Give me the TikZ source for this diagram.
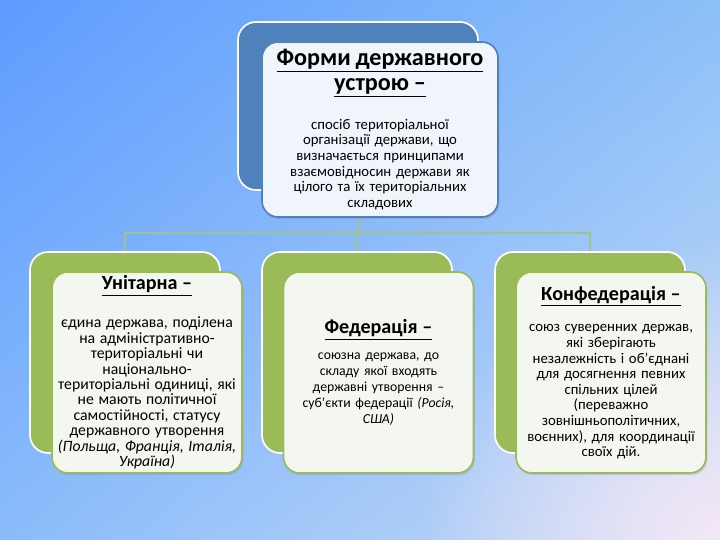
\documentclass[tikz,border=0pt]{standalone}
\usepackage{fontspec}
\setmainfont{Carlito}
\usetikzlibrary{shadows,fadings,shadings}

\definecolor{officeblue}{RGB}{79,129,189}
\definecolor{officegreen}{RGB}{155,187,89}
\definecolor{linkgreen}{RGB}{158,196,138}
\definecolor{greenpaper}{RGB}{244,247,239}
\definecolor{bluepaper}{RGB}{240,245,251}
\definecolor{bgul}{RGB}{94,155,255}
\definecolor{bgur}{RGB}{140,192,248}
\definecolor{bgll}{RGB}{138,188,250}
\definecolor{bglr}{RGB}{200,218,246}
\definecolor{lavender}{RGB}{244,232,246}

\tikzfading[name=glow, inner color=transparent!0, outer color=transparent!100]

\newcommand{\headsize}{\fontsize{14.3}{16}\selectfont\bfseries}
\newcommand{\bodysize}{\fontsize{10.5}{11.1}\selectfont}

\begin{document}
\begin{tikzpicture}[
    backbox/.style={rounded corners=0.45cm, draw=white, line width=1.2pt,
      fill=officegreen, minimum width=4.75cm, minimum height=5.025cm},
    frontbox/.style={rounded corners=0.4cm, draw=officegreen, line width=1.2pt,
      fill=greenpaper, minimum width=4.75cm, minimum height=5.025cm,
      text width=4.7cm, align=center, inner sep=0pt,
      drop shadow={opacity=0.25, shadow xshift=1pt, shadow yshift=-1.5pt}},
    link/.style={draw=linkgreen, line width=1.4pt}]
\useasboundingbox (0,0) rectangle (18,13.5);
\shade[upper left=bgul, upper right=bgur, lower left=bgll, lower right=bglr]
  (0,0) rectangle (18,13.5);
\begin{scope}
  \clip (0,0) rectangle (18,13.5);
  \fill[lavender, path fading=glow] (18,0) circle (7.5cm);
\end{scope}

\node[backbox, fill=officeblue, minimum width=6cm, minimum height=4.2cm]
  (formsback) at (8.95,10.85) {};
\node[backbox] (uniback) at (3.125,4.6875) {};
\node[backbox] (fedback) at (8.925,4.6875) {};
\node[backbox] (confback) at (14.75,4.6875) {};

\coordinate (bus) at (8.95,7.675);
\draw[link] (formsback.south) -- (bus);
\draw[link] (bus) -| (uniback.north);
\draw[link] (bus) -| (fedback.north);
\draw[link] (bus) -| (confback.north);

\node[frontbox, draw=officeblue, fill=bluepaper, minimum width=5.9cm,
  minimum height=4.375cm, text width=5.8cm] (forms) at (9.5,10.2625) {%
  {\fontsize{17.2}{18}\selectfont\bfseries\underline{Форми державного}\\
   \underline{устрою –}\par}\vspace{14.5pt}
  {\bodysize спосіб територіальної\\ організації держави, що\\
   визначається принципами\\ взаємовідносин держави як\\
   цілого та їх територіальних\\ складових\par}};

\node[frontbox] (unitary) at (3.675,4.1875) {%
  {\headsize\underline{Унітарна –}\par}\vspace{14pt}
  {\fontsize{11.2}{11}\selectfont єдина держава, поділена\\ на адміністративно-\\
   територіальні чи\\ національно-\\ територіальні одиниці, які\\
   не мають політичної\\ самостійності, статусу\\ державного утворення\\
   \textit{(Польща, Франція, Італія,}\\ \textit{Україна)}\par}};

\node[frontbox] (federation) at (9.4625,4.1875) {%
  {\headsize\underline{Федерація –}\par}\vspace{7pt}
  {\fontsize{9.8}{11.4}\selectfont союзна держава, до\\ складу якої входять\\
   державні утворення –\\ суб’єкти федерації \textit{(Росія,}\\
   \textit{США)}\par}};

\node[frontbox] (confederation) at (15.275,4.1875) {%
  {\headsize\underline{Конфедерація –}\par}\vspace{11.5pt}
  {\bodysize союз суверенних держав,\\ які зберігають\\
   незалежність і об’єднані\\ для досягнення певних\\ спільних цілей\\
   (переважно\\ зовнішньополітичних,\\ воєнних), для координації\\
   своїх дій.\par}};
\end{tikzpicture}
\end{document}
